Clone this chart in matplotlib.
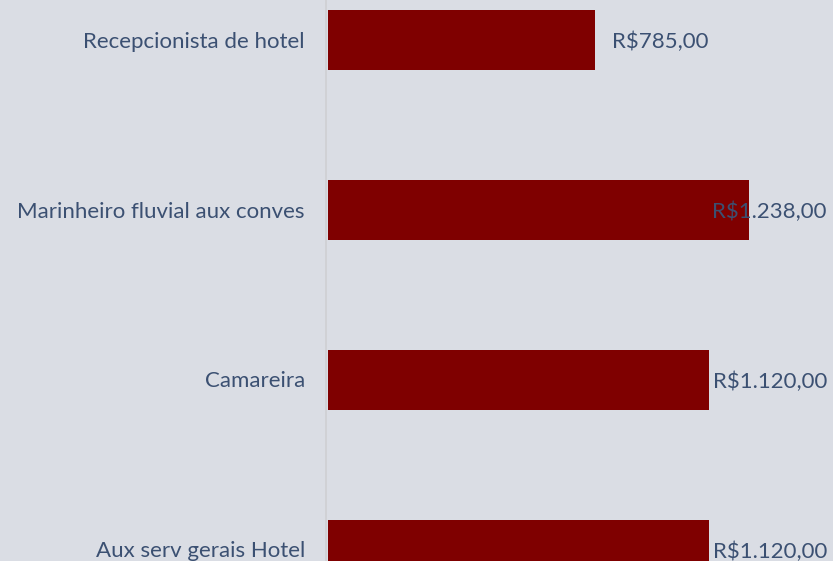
import matplotlib.pyplot as plt

# data (top to bottom)
cargos = ["Recepcionista de hotel", "Marinheiro fluvial aux conves",
          "Camareira", "Aux serv gerais Hotel"]
salarios = [785, 1238, 1120, 1120]
rotulos = ["R$785,00", "R$1.238,00", "R$1.120,00", "R$1.120,00"]

bg = "#DADDE4"
bar_color = "#7F0000"
txt_color = "#3B5072"

plt.rcParams["font.family"] = ["Lato", "DejaVu Sans"]
fs = 16

fig = plt.figure(figsize=(8.33, 5.61), dpi=100)
fig.patch.set_facecolor(bg)
ax = fig.add_axes([0, 0, 1, 1])
ax.set_facecolor(bg)

# pixel scale: x=0 at 328px, 0.34 px per unit; rows every 170px starting at 40px
px = 0.34
ax.set_xlim(-328 / px, (833 - 328) / px)
ax.set_ylim((561 - 40) / 170, -40 / 170)

ypos = list(range(len(cargos)))
ax.barh(ypos, salarios, height=0.35, color=bar_color)
ax.axvline(-2 / px, color="#CFCFD2", lw=1.2, zorder=0)

dy = 1.5 / 170  # small nudge down for text
for y, nome in zip(ypos, cargos):
    ax.text(-23 / px, y + dy, nome, ha="right", va="center",
            fontsize=fs, color=txt_color)

right_edge = (827 - 328) / px
for y, v, lab in zip(ypos, salarios, rotulos):
    if v * px + 18 + 116 > 827 - 328:
        ax.text(right_edge, y + dy, lab, ha="right", va="center",
                fontsize=fs, color=txt_color)
    else:
        ax.text(v + 17 / px, y + dy, lab, ha="left", va="center",
                fontsize=fs, color=txt_color)

ax.axis("off")
fig.savefig("out.png", dpi=100, facecolor=bg)
